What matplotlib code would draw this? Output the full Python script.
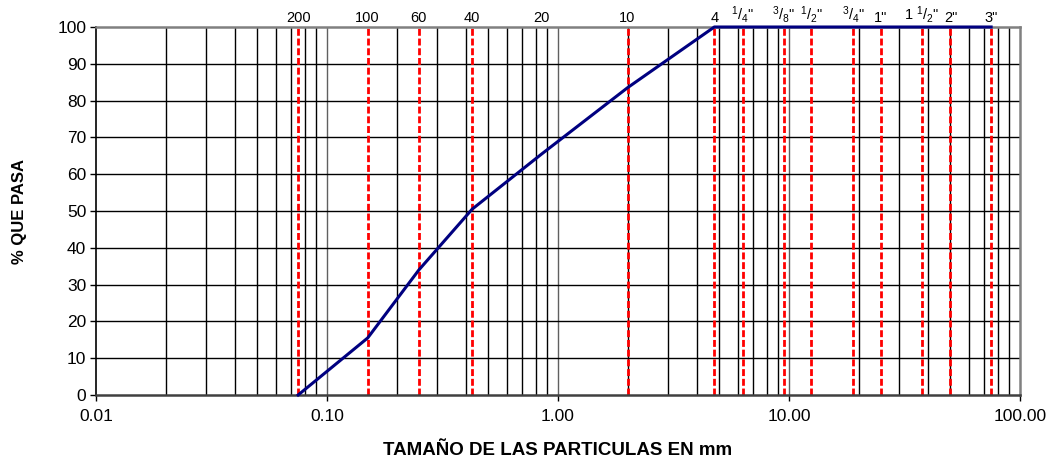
import numpy as np
import matplotlib
matplotlib.use("Agg")
import matplotlib.pyplot as plt
from matplotlib.ticker import FixedLocator, NullLocator

plt.rcParams['font.family'] = ['Liberation Sans', 'DejaVu Sans']
plt.rcParams['mathtext.fontset'] = 'custom'
plt.rcParams['mathtext.rm'] = 'Liberation Sans'
plt.rcParams['mathtext.it'] = 'Liberation Sans'

## curve data (granulometria)
size_mm = [0.075, 0.15, 0.25, 0.425, 0.85, 2.0, 4.75, 6.3, 9.5, 12.5, 19.0, 25.0, 37.5, 50.0, 75.0]
pct_pasa = [0.0, 15.5, 34.0, 50.5, 65.5, 83.5, 100, 100, 100, 100, 100, 100, 100, 100, 100]

## sieve openings with a red line
sieve_mm = [0.075, 0.15, 0.25, 0.425, 2.0, 4.75, 6.3, 9.5, 12.5, 19.0, 25.0, 37.5, 50.0, 75.0]

## top labels
label_mm = [0.075, 0.15, 0.25, 0.425, 0.85, 2.0, 4.75, 6.3, 9.5, 12.5, 19.0, 25.0, 37.5, 50.0, 75.0]
label_txt = ['200', '100', '60', '40', '20', '10', '4',
             r'$^{1}/_{4}$"', r'$^{3}/_{8}$"', r'$^{1}/_{2}$"',
             r'$^{3}/_{4}$"', '1"', r'1 $^{1}/_{2}$"', '2"', '3"']

xticks = [0.01, 0.1, 1, 10, 100]
xticklabels = ['0.01', '0.10', '1.00', '10.00', '100.00']
yticks = list(range(0, 101, 10))

fig = plt.figure(figsize=(10.54, 4.63), dpi=100)
ax = fig.add_axes([96/1054, 1 - 395/463, (1020-96)/1054, (395-27)/463])

ax.set_xscale('log')
ax.set_xlim(0.01, 100)
ax.set_ylim(0, 100)

# vertical grid at every log subdivision
for dec in [0.01, 0.1, 1, 10]:
    for k in range(2, 10):
        ax.axvline(dec*k, color='black', lw=1.0, zorder=1)
for v in [0.1, 1, 10]:
    ax.axvline(v, color='#606060', lw=1.0, zorder=1)
for y in yticks[1:-1]:
    ax.axhline(y, color='black', lw=1.0, zorder=1)

for s in sieve_mm:
    ax.axvline(s, color='#ff0000', lw=2.0, ls=(0, (2.5, 1.0)), zorder=2)

ax.plot(size_mm, pct_pasa, color='#000080', lw=2.2, zorder=3, clip_on=False)

for s, t in zip(label_mm, label_txt):
    ax.text(s, 100.6, t, ha='center', va='bottom', fontsize=10.5)

ax.xaxis.set_major_locator(FixedLocator(xticks))
ax.xaxis.set_minor_locator(NullLocator())
ax.set_xticklabels(xticklabels)
ax.set_yticks(yticks)
ax.tick_params(axis='both', direction='out', length=4, width=1, labelsize=12.5, color='black')
ax.tick_params(axis='x', pad=6)
ax.tick_params(axis='y', pad=3)

for sp in ax.spines.values():
    sp.set_color('#808080')
    sp.set_linewidth(1.8)
ax.spines['left'].set_color('black')
ax.spines['left'].set_linewidth(1.2)
ax.spines['bottom'].set_color('#404040')

ax.set_ylabel('% QUE PASA', fontsize=12, fontweight='bold', labelpad=22)
ax.set_xlabel('TAMAÑO DE LAS PARTICULAS EN mm', fontsize=13.5, fontweight='bold', labelpad=13)

plt.savefig('out.png', dpi=100)
